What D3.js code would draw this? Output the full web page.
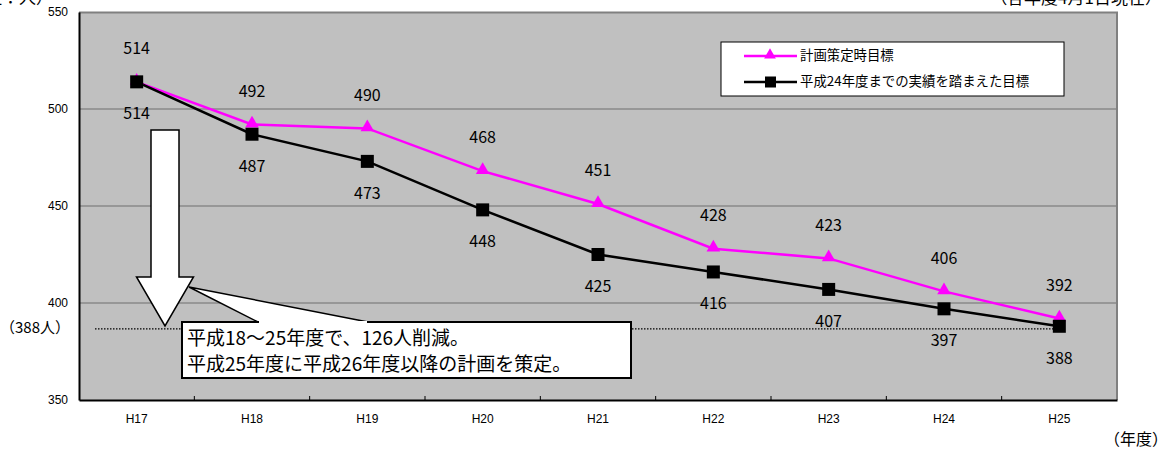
<!DOCTYPE html>
<html>
<head>
<meta charset="utf-8">
<script src="https://cdn.jsdelivr.net/npm/d3@7/dist/d3.min.js"></script>
<style>
  html, body { margin: 0; padding: 0; background: #fff; }
  svg { display: block; }
  text { font-family: "Noto Sans CJK JP", "Liberation Sans", sans-serif; }
</style>
</head>
<body>
<script>
// Staff number targets by fiscal year (persons)
const years = ["H17", "H18", "H19", "H20", "H21", "H22", "H23", "H24", "H25"];
const planTarget = [514, 492, 490, 468, 451, 428, 423, 406, 392];      // 計画策定時目標
const revisedTarget = [514, 487, 473, 448, 425, 416, 407, 397, 388];   // 平成24年度までの実績を踏まえた目標
const yTicks = [350, 400, 450, 500, 550];
const seriesNames = ["計画策定時目標", "平成24年度までの実績を踏まえた目標"];
const finalValue = 388;
const noteLines = ["平成18～25年度で、126人削減。", "平成25年度に平成26年度以降の計画を策定。"];

const W = 1169, H = 456;
const plot = { left: 79, top: 12, right: 1117, bottom: 400 };

const svg = d3.select("body").append("svg").attr("width", W).attr("height", H);

const x = d3.scaleBand().domain(years).range([plot.left, plot.right]).padding(0);
const y = d3.scaleLinear().domain([350, 550]).range([plot.bottom, plot.top]);
const cx = d => x(d) + x.bandwidth() / 2;

// Plot background
svg.append("rect")
  .attr("x", plot.left).attr("y", plot.top)
  .attr("width", plot.right - plot.left).attr("height", plot.bottom - plot.top)
  .attr("fill", "#c0c0c0");

// Gridlines
svg.append("g").selectAll("line")
  .data(yTicks.filter(t => t > 350 && t < 550))
  .join("line")
  .attr("x1", plot.left).attr("x2", plot.right)
  .attr("y1", d => y(d)).attr("y2", d => y(d))
  .attr("stroke", "#6e6e6e").attr("stroke-width", 1);

// Top and right frame
svg.append("path")
  .attr("d", `M${plot.left},${plot.top + 0.5}H${plot.right}V${plot.bottom}`)
  .attr("fill", "none").attr("stroke", "#808080").attr("stroke-width", 2);

// Y axis
const yAxis = svg.append("g")
  .attr("transform", `translate(${plot.left},0)`)
  .call(d3.axisLeft(y).tickValues(yTicks).tickSize(0).tickPadding(11));
yAxis.select(".domain").attr("stroke", "#000").attr("stroke-width", 2);
yAxis.selectAll("text").attr("font-size", 12).attr("fill", "#000")
  .style("font-family", "'Liberation Sans', Arial, sans-serif");

// X axis with ticks between categories
const xAxis = svg.append("g")
  .attr("transform", `translate(0,${plot.bottom})`)
  .call(d3.axisBottom(x).tickSize(0).tickPadding(14));
xAxis.select(".domain").attr("stroke", "#000").attr("stroke-width", 2);
xAxis.selectAll("text").attr("font-size", 12).attr("fill", "#000")
  .style("font-family", "'Liberation Sans', Arial, sans-serif");
svg.append("g").selectAll("line")
  .data(years.slice(1))
  .join("line")
  .attr("x1", d => x(d)).attr("x2", d => x(d))
  .attr("y1", plot.bottom).attr("y2", plot.bottom - 4)
  .attr("stroke", "#000").attr("stroke-width", 1);

// Dotted reference line at the final target value
svg.append("line")
  .attr("x1", 95).attr("x2", cx(years[years.length - 1]))
  .attr("y1", y(finalValue) + 2.5).attr("y2", y(finalValue) + 2.5)
  .attr("stroke", "#000").attr("stroke-width", 1.3)
  .attr("stroke-dasharray", "1.5,1.5");
svg.append("text")
  .attr("x", 0).attr("y", y(finalValue) + 3)
  .attr("dominant-baseline", "middle")
  .attr("font-size", 15)
  .text(`（${finalValue}人）`);

// Big downward arrow
const ax = 165, shaftW = 28, headW = 57;
const arrowTop = 130, shaftBottom = 277, arrowTip = 326;
svg.append("path")
  .attr("d", `M${ax - shaftW / 2},${arrowTop}H${ax + shaftW / 2}V${shaftBottom}H${ax + headW / 2}L${ax},${arrowTip}L${ax - headW / 2},${shaftBottom}H${ax - shaftW / 2}Z`)
  .attr("fill", "#fff").attr("stroke", "#000").attr("stroke-width", 1.5);

// Callout box with pointer
const box = { x: 182, y: 322, w: 449, h: 56 };
svg.append("path")
  .attr("d", `M258,${box.y}L189,287L368,${box.y}Z`)
  .attr("fill", "#fff").attr("stroke", "#000").attr("stroke-width", 1.5);
svg.append("rect")
  .attr("x", box.x).attr("y", box.y).attr("width", box.w).attr("height", box.h)
  .attr("fill", "#fff").attr("stroke", "#000").attr("stroke-width", 2);
svg.append("rect")
  .attr("x", 259).attr("y", box.y - 1).attr("width", 108).attr("height", 2)
  .attr("fill", "#fff");
svg.append("g").selectAll("text")
  .data(noteLines)
  .join("text")
  .attr("x", box.x + 5)
  .attr("y", (d, i) => box.y + 18 + i * 26)
  .attr("dominant-baseline", "middle")
  .attr("font-size", 19)
  .text(d => d);

// Series lines and markers
const line = d3.line().x((d, i) => cx(years[i])).y(d => y(d));

svg.append("path").datum(planTarget)
  .attr("d", line).attr("fill", "none")
  .attr("stroke", "#ff00ff").attr("stroke-width", 2.5);
svg.append("path").datum(revisedTarget)
  .attr("d", line).attr("fill", "none")
  .attr("stroke", "#000").attr("stroke-width", 2.5);

const tri = d3.symbol().type(d3.symbolTriangle).size(80);
const sq = 13;

svg.append("g").selectAll("path")
  .data(planTarget)
  .join("path")
  .attr("d", tri)
  .attr("transform", (d, i) => `translate(${cx(years[i])},${y(d) - 1})`)
  .attr("fill", "#ff00ff");

svg.append("g").selectAll("rect")
  .data(revisedTarget)
  .join("rect")
  .attr("x", (d, i) => cx(years[i]) - sq / 2)
  .attr("y", d => y(d) - sq / 2)
  .attr("width", sq).attr("height", sq)
  .attr("fill", "#000");

// Value labels: plan above, revised below
svg.append("g").selectAll("text")
  .data(planTarget)
  .join("text")
  .attr("x", (d, i) => cx(years[i]))
  .attr("y", d => y(d) - 32)
  .attr("text-anchor", "middle").attr("dominant-baseline", "middle")
  .attr("font-size", 16)
  .text(d => d);
svg.append("g").selectAll("text")
  .data(revisedTarget)
  .join("text")
  .attr("x", (d, i) => cx(years[i]))
  .attr("y", d => y(d) + 33)
  .attr("text-anchor", "middle").attr("dominant-baseline", "middle")
  .attr("font-size", 16)
  .text(d => d);

// Legend
const lg = svg.append("g");
lg.append("rect")
  .attr("x", 721).attr("y", 42).attr("width", 343).attr("height", 54)
  .attr("fill", "#fff").attr("stroke", "#000").attr("stroke-width", 1);
const legendRows = [
  { name: seriesNames[0], color: "#ff00ff", marker: "tri", yy: 56 },
  { name: seriesNames[1], color: "#000", marker: "sq", yy: 82 }
];
legendRows.forEach(r => {
  lg.append("line")
    .attr("x1", 744).attr("x2", 797).attr("y1", r.yy).attr("y2", r.yy)
    .attr("stroke", r.color).attr("stroke-width", 2.5);
  if (r.marker === "tri") {
    lg.append("path").attr("d", d3.symbol().type(d3.symbolTriangle).size(60))
      .attr("transform", `translate(770,${r.yy - 1})`).attr("fill", r.color);
  } else {
    lg.append("rect").attr("x", 765).attr("y", r.yy - 5.5)
      .attr("width", 11).attr("height", 11).attr("fill", r.color);
  }
  lg.append("text")
    .attr("x", 800).attr("y", r.yy)
    .attr("dominant-baseline", "middle")
    .attr("font-size", 13.4)
    .text(r.name);
});

// Units and date notes (partly cut off at the top edge)
svg.append("text")
  .attr("x", -49).attr("y", 4)
  .attr("font-size", 17)
  .text("（単位：人）");
svg.append("text")
  .attr("x", 1162).attr("y", 4)
  .attr("text-anchor", "end")
  .attr("font-size", 17)
  .text("（各年度4月1日現在）");
svg.append("text")
  .attr("x", 1168).attr("y", 441)
  .attr("text-anchor", "end").attr("dominant-baseline", "middle")
  .attr("font-size", 16)
  .text("（年度）");
</script>
</body>
</html>
